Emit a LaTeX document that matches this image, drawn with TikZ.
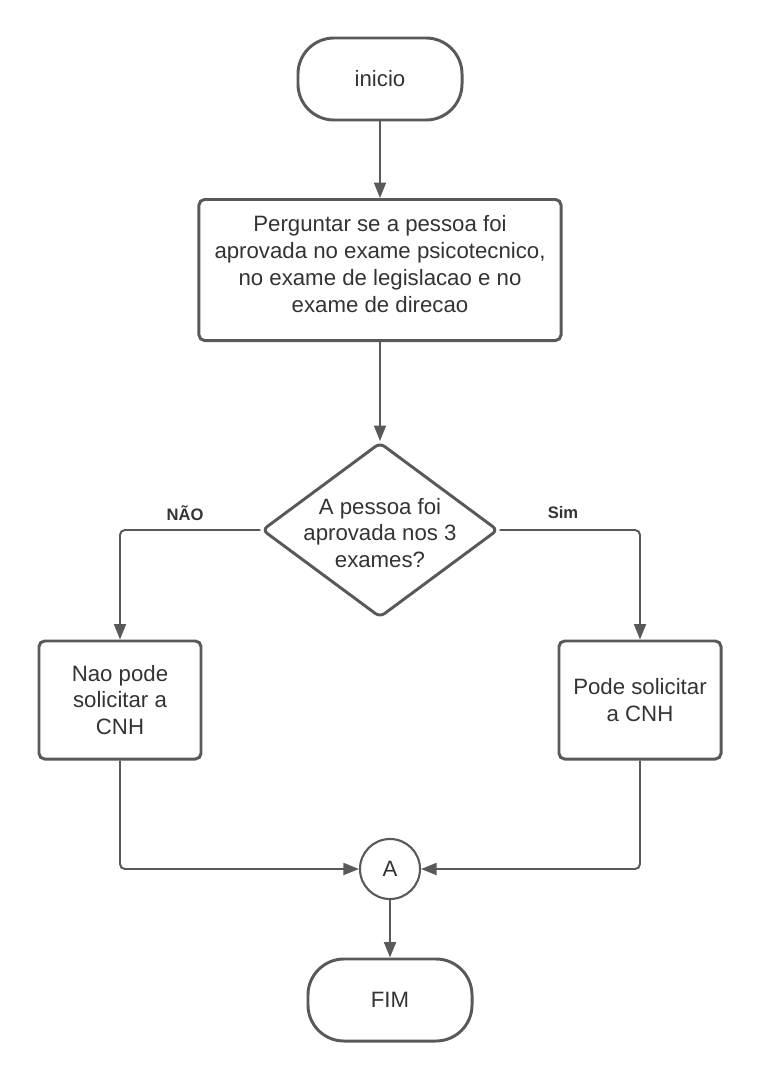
\documentclass[tikz,border=0pt]{standalone}
\usepackage{fontspec}
\setmainfont{Liberation Sans}
\usetikzlibrary{shapes.geometric,arrows.meta}
\definecolor{linha}{HTML}{595959}
\definecolor{texto}{HTML}{333333}
\tikzset{
	base/.style={draw=linha, line width=2.1pt, text=texto, align=center, inner sep=0pt, font=\fontsize{15.8}{19}\selectfont},
	terminal/.style={base, rounded corners=0.9cm, minimum width=4.1cm, minimum height=2.05cm},
	processo/.style={base, rounded corners=4pt},
	decisao/.style={diamond, draw=linha, line width=2.1pt, rounded corners=4pt, inner sep=0pt, minimum width=5.9cm, minimum height=4.375cm},
	conector/.style={base, circle, line width=1.5pt, minimum size=1.5cm},
	seta/.style={draw=linha, line width=1.4pt, rounded corners=3.5pt, -{Triangle[length=11pt,width=8.5pt]}},
	rotulo/.style={text=texto, font=\bfseries\fontsize{11.8}{13}\selectfont}
}
\begin{document}
\begin{tikzpicture}[x=0.025cm, y=-0.025cm]
	\useasboundingbox (0,0) rectangle (760,1080);
	\node [terminal] (inicio) at (380,79) {inicio};
	\node [processo, minimum width=9.05cm, minimum height=3.525cm] (pergunta) at (380,270) {};
	\node [base, draw=none] (perguntatxt) at (380,264) {Perguntar se a pessoa foi\\aprovada no exame psicotecnico,\\no exame de legislacao e no\\exame de direcao};
	\node [decisao] (teste) at (380,530) {};
	\node [base, draw=none] (testetxt) at (380,533) {A pessoa foi\\aprovada nos 3\\exames?};
	\node [processo, minimum width=4.05cm, minimum height=2.95cm] (nao) at (120,700) {Nao pode\\solicitar a\\CNH};
	\node [processo, minimum width=4.05cm, minimum height=2.95cm] (sim) at (640,700) {Pode solicitar\\a CNH};
	\node [conector] (a) at (390,869) {A};
	\node [terminal] (fim) at (390,1000) {FIM};
	\node [rotulo] (lbnao) at (185,513) {NÃO};
	\node [rotulo] (lbsim) at (563,513) {Sim};
	%\draw [dashed] (0,530) -- (760,530);
	\draw [seta] (inicio) -- (pergunta);
	\draw [seta] (pergunta) -- (teste);
	\draw [seta] (teste.west) -| (nao.north);
	\draw [seta] (teste.east) -| (sim.north);
	\draw [seta] (nao.south) |- (a.west);
	\draw [seta] (sim.south) |- (a.east);
	\draw [seta] (a) -- (fim);
\end{tikzpicture}
\end{document}
